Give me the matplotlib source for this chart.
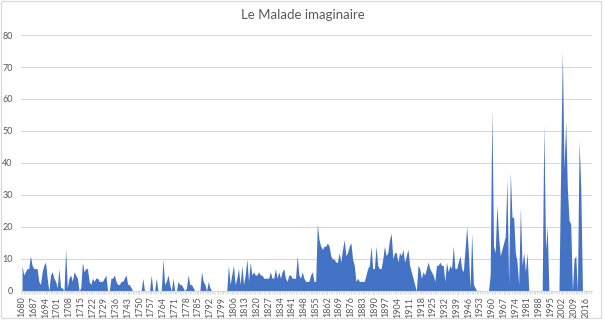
import numpy as np
import matplotlib.pyplot as plt
from matplotlib.patches import Rectangle

plt.rcParams["font.family"] = ["Lato", "DejaVu Sans"]

years = list(range(1680, 2020))

# number of performances per year, decade by decade
counts = [
    8, 5, 6, 7, 7, 11, 8, 7, 7, 7,          # 1680
    3, 2, 6, 8, 9, 4, 0, 5, 6, 4,           # 1690
    3, 1, 7, 1, 1, 0, 13, 1, 4, 5,          # 1700
    3, 6, 5, 4, 0, 1, 9, 6, 7, 7,           # 1710
    3, 2, 4, 3, 4, 4, 3, 3, 3, 4,           # 1720
    5, 0, 0, 4, 4, 5, 3, 2, 2, 3,           # 1730
    3, 4, 5, 2, 2, 1, 0, 0, 0, 0,           # 1740
    0, 0, 4, 0, 0, 0, 0, 5, 0, 0,           # 1750
    4, 0, 0, 0, 10, 2, 3, 5, 2, 0,          # 1760
    4, 0, 0, 3, 2, 2, 1, 0, 1, 5,           # 1770
    2, 2, 1, 0, 0, 0, 0, 6, 3, 2,           # 1780
    0, 3, 1, 0, 0, 0, 0, 0, 0, 0,           # 1790
    0, 0, 0, 8, 2, 5, 8, 2, 4, 7,           # 1800
    2, 8, 2, 5, 10, 3, 9, 5, 6, 5,          # 1810
    5, 6, 5, 5, 4, 4, 4, 4, 6, 4,           # 1820
    4, 7, 4, 6, 4, 6, 7, 4, 3, 5,           # 1830
    5, 4, 4, 4, 11, 5, 4, 6, 4, 3,          # 1840
    3, 3, 5, 6, 3, 3, 21, 16, 14, 13,       # 1850
    14, 14, 15, 14, 11, 10, 10, 9, 9, 12,   # 1860
    9, 13, 16, 11, 12, 14, 15, 10, 8, 3,    # 1870
    4, 3, 3, 3, 3, 5, 7, 8, 14, 7,          # 1880
    7, 14, 8, 7, 7, 10, 14, 11, 12, 16,     # 1890
    18, 10, 12, 12, 9, 12, 11, 13, 9, 11,   # 1900
    13, 8, 6, 4, 2, 0, 8, 7, 4, 6,          # 1910
    5, 7, 9, 7, 6, 5, 3, 8, 8, 9,           # 1920
    8, 8, 3, 9, 6, 8, 7, 14, 7, 7,          # 1930
    9, 11, 7, 6, 13, 20, 12, 1, 18, 2,      # 1940
    1, 0, 0, 0, 0, 0, 0, 0, 0, 5,           # 1950
    57, 14, 12, 27, 17, 11, 13, 15, 17, 35, # 1960
    2, 37, 23, 23, 12, 9, 2, 26, 8, 12,     # 1970
    6, 12, 0, 0, 0, 0, 0, 0, 0, 0,          # 1980
    0, 52, 13, 20, 0, 0, 0, 0, 0, 0,        # 1990
    0, 38, 75, 38, 53, 32, 22, 21, 0, 10,   # 2000
    11, 0, 47, 32, 0, 0, 0, 0, 0, 0,        # 2010
]

label_years = years[::7]
y_ticks = [0, 10, 20, 30, 40, 50, 60, 70, 80]

fig = plt.figure(figsize=(6.05, 3.22), dpi=100)
ax = fig.add_axes([0.035, 0.0963, 0.943, 0.795])

ax.fill_between(years, counts, 0, color="#4472C4", linewidth=0)

ax.set_xlim(years[0] - 0.5, years[-1] + 0.5)
ax.set_ylim(0, 80)
ax.set_yticks(y_ticks)
ax.set_xticks(label_years)
ax.set_xticklabels([str(y) for y in label_years], rotation=90)
ax.set_xticks(years, minor=True)

ax.grid(axis="y", color="#d9d9d9", linewidth=0.8)
ax.set_axisbelow(True)
for side in ["top", "right", "left"]:
    ax.spines[side].set_visible(False)
ax.spines["bottom"].set_color("#d9d9d9")

ax.tick_params(axis="y", length=0, labelsize=6.5, labelcolor="#595959", pad=6)
ax.tick_params(axis="x", which="both", length=2.5, color="#d9d9d9",
               labelsize=6.5, labelcolor="#595959", pad=1.5)

fig.text(0.5, 0.953, "Le Malade imaginaire", ha="center", va="center",
         fontsize=9.5, color="#595959")

fig.patches.append(Rectangle((1 / 605, 4 / 322), 600 / 605, 317.5 / 322,
                             transform=fig.transFigure, fill=False,
                             edgecolor="#d9d9d9", linewidth=0.8))

fig.savefig("out.png", dpi=100)
